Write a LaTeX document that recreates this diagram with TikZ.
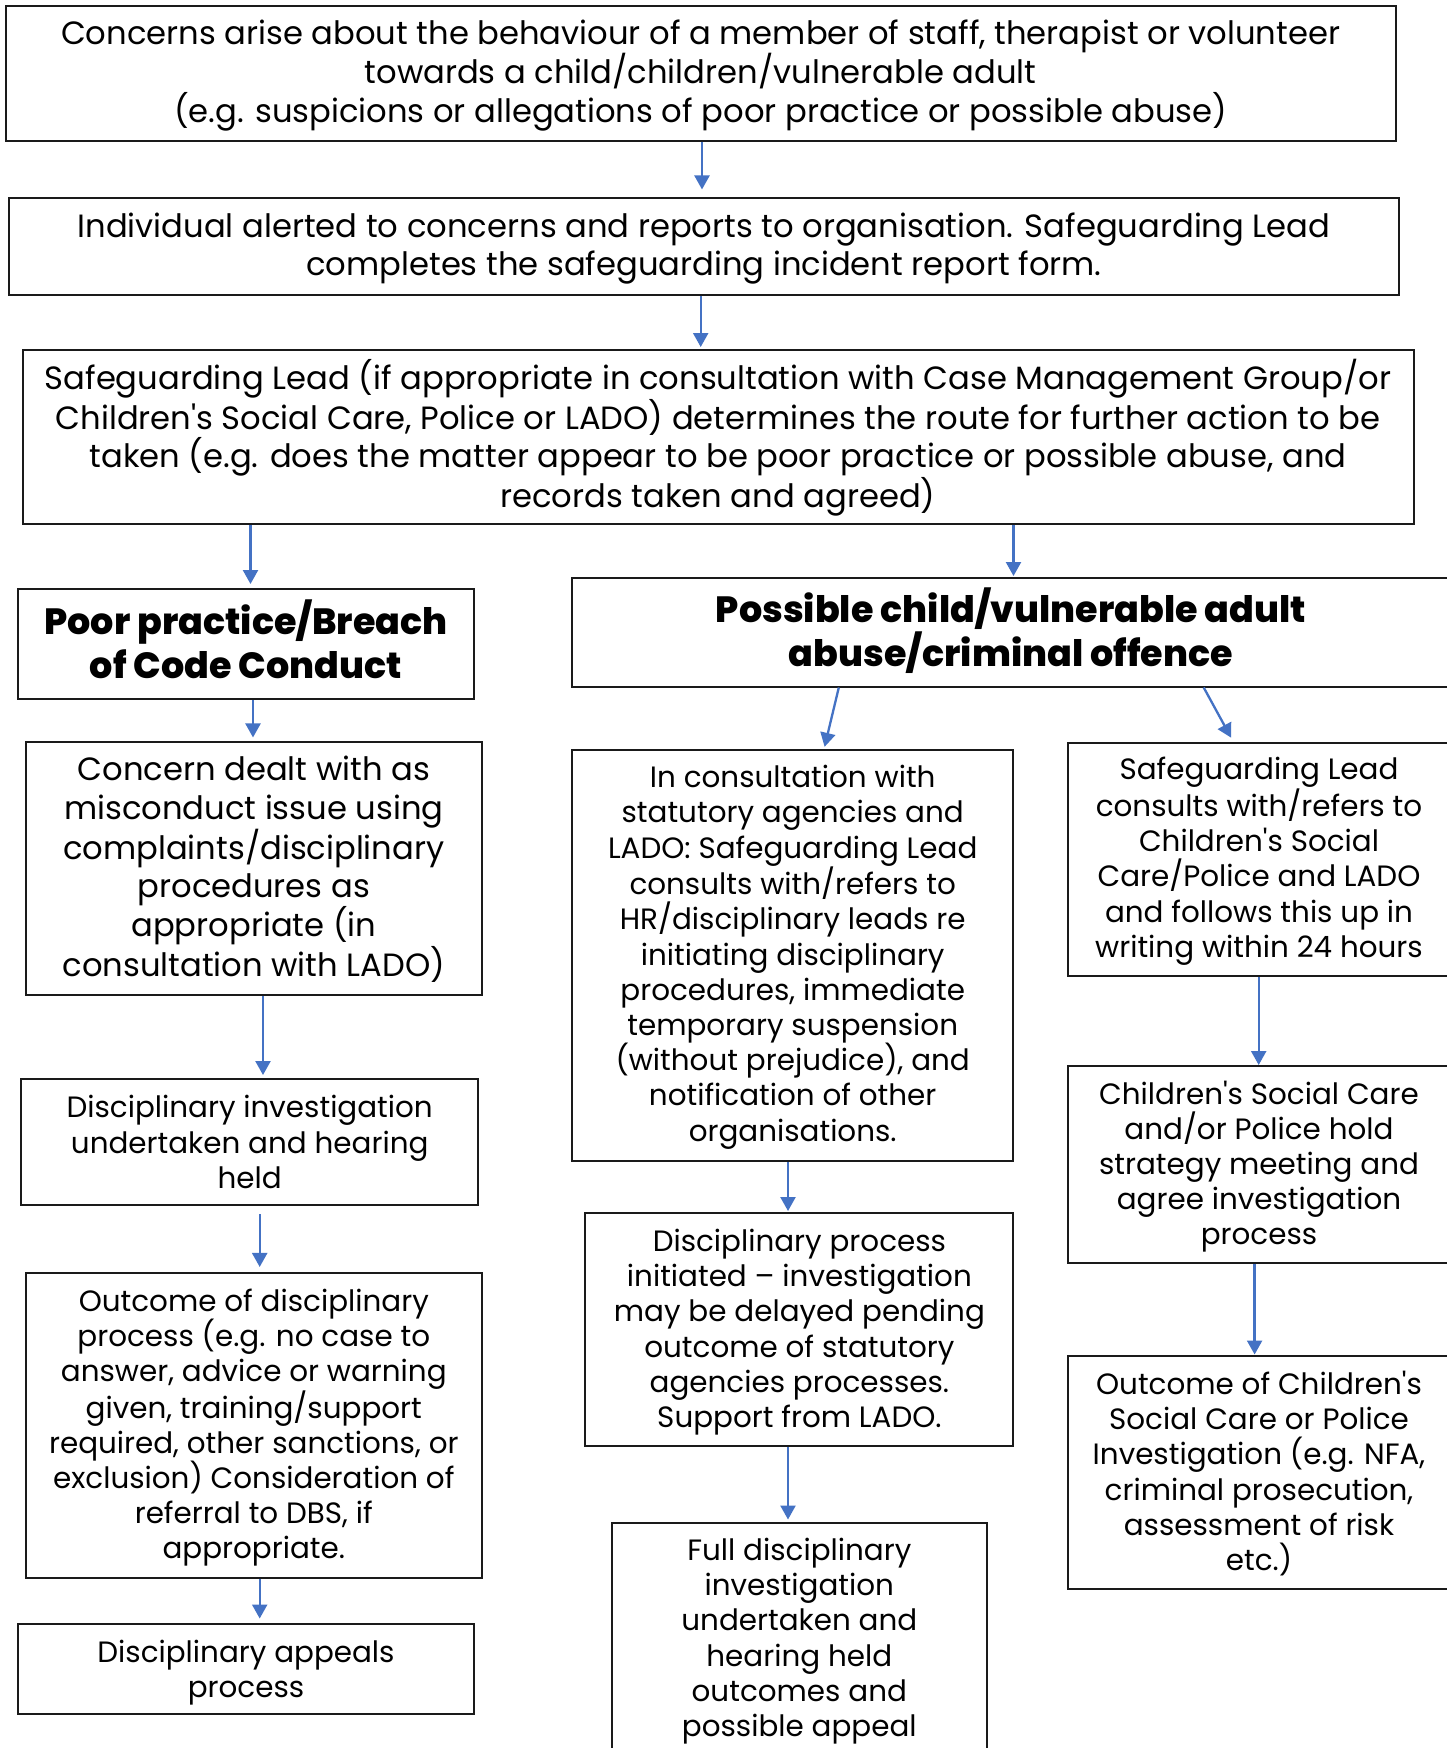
\documentclass[tikz,border=0pt]{standalone}
\usepackage{fontspec}
\setmainfont{Poppins}
\IfFontExistsTF{Poppins ExtraBold}
  {\newfontfamily\headfont{Poppins ExtraBold}}
  {\newfontfamily\headfont{Poppins}[UprightFont=*-Bold]}
\usetikzlibrary{arrows.meta}
\definecolor{arrowblue}{HTML}{4472C4}
\definecolor{boxline}{HTML}{1A1A1A}
\tikzset{
  box/.style={draw=boxline, line width=2pt, inner sep=0pt},
  txt/.style={inner sep=0pt, align=center, text=black},
  bigtxt/.style={txt, font=\fontsize{32.2}{38.2}\selectfont},
  smalltxt/.style={txt, font=\fontsize{29.4}{35.2}\selectfont},
  headtxt/.style={txt, font=\headfont\fontsize{36.5}{44}\selectfont},
  arr/.style={draw=arrowblue, line width=2.3pt, -{Triangle[width=15pt,length=14pt]}},
}
\begin{document}
\begin{tikzpicture}[x=1pt,y=-1pt]
\fill[white] (0,0) rectangle (1447,1748);
\useasboundingbox (0,0) rectangle (1447,1748);

% ---------- boxes ----------
\node[box,minimum width=1390pt,minimum height=135pt] (b1) at (700.6,73) {};
\node[box,minimum width=1390pt,minimum height=96.5pt] (b2) at (704,246.7) {};
\node[box,minimum width=1391pt,minimum height=174pt] (b3) at (718,437) {};
\node[box,minimum width=456pt,minimum height=110pt] (pp) at (246,644) {};
\node[box,minimum width=878pt,minimum height=109pt] (pca) at (1011,632) {};
\node[box,minimum width=456.4pt,minimum height=252.5pt] (l1) at (253.8,868.7) {};
\node[box,minimum width=457pt,minimum height=126pt] (l2) at (249.7,1142) {};
\node[box,minimum width=456.4pt,minimum height=304.7pt] (l3) at (253.8,1425.3) {};
\node[box,minimum width=456.5pt,minimum height=90pt] (l4) at (246,1669) {};
\node[box,minimum width=441.5pt,minimum height=410.7pt] (m1) at (792.7,955.6) {};
\node[box,minimum width=428pt,minimum height=233pt] (m2) at (799.4,1329.5) {};
\node[box,minimum width=374.6pt,minimum height=232pt] (m3) at (799.3,1639) {};
\node[box,minimum width=382pt,minimum height=233.3pt] (r1) at (1259,859.7) {};
\node[box,minimum width=382pt,minimum height=197pt] (r2) at (1259,1164.5) {};
\node[box,minimum width=382pt,minimum height=233pt] (r3) at (1259,1472) {};

% ---------- texts ----------
\node[bigtxt] (b1t) at ([yshift=-2.2pt]b1.center)
 {Concerns arise about the behaviour of a member of staff, therapist or volunteer\\towards a child/children/vulnerable adult\\(e.g. suspicions or allegations of poor practice or possible abuse)};
\node[bigtxt] (b2t) at ([yshift=-2.2pt]b2.center)
 {Individual alerted to concerns and reports to organisation. Safeguarding Lead\\completes the safeguarding incident report form.};
\node[bigtxt] (b3t) at ([yshift=-0.6pt]b3.center)
 {Safeguarding Lead (if appropriate in consultation with Case Management Group/or\\Children\textquotesingle s Social Care, Police or LADO) determines the route for further action to be\\taken (e.g. does the matter appear to be poor practice or possible abuse, and\\records taken and agreed)};
\node[headtxt] (ppt) at ([yshift=5pt]pp.center)
 {Poor practice/Breach\\of Code Conduct};
\node[headtxt] (pcat) at ([yshift=1pt]pca.center)
 {Possible child/vulnerable adult\\abuse/criminal offence};
\node[bigtxt] (l1t) at ([yshift=-0.6pt]l1.center)
 {Concern dealt with as\\misconduct issue using\\complaints/disciplinary\\procedures as\\appropriate (in\\consultation with LADO)};
\node[smalltxt] (l2t) at (l2.center)
 {Disciplinary investigation\\undertaken and hearing\\held};
\node[smalltxt] (l3t) at ([yshift=-2.2pt]l3.center)
 {Outcome of disciplinary\\process (e.g. no case to\\answer, advice or warning\\given, training/support\\required, other sanctions, or\\exclusion) Consideration of\\referral to DBS, if\\appropriate.};
\node[smalltxt] (l4t) at ([yshift=-3.3pt]l4.center)
 {Disciplinary appeals\\process};
\node[smalltxt] (m1t) at ([yshift=-1.6pt]m1.center)
 {In consultation with\\statutory agencies and\\LADO: Safeguarding Lead\\consults with/refers to\\HR/disciplinary leads re\\initiating disciplinary\\procedures, immediate\\temporary suspension\\(without prejudice), and\\notification of other\\organisations.};
\node[smalltxt] (m2t) at ([yshift=-2.6pt]m2.center)
 {Disciplinary process\\initiated – investigation\\may be delayed pending\\outcome of statutory\\agencies processes.\\Support from LADO.};
\node[smalltxt] (m3t) at ([yshift=-2.2pt]m3.center)
 {Full disciplinary\\investigation\\undertaken and\\hearing held\\outcomes and\\possible appeal};
\node[smalltxt] (r1t) at ([yshift=-1.6pt]r1.center)
 {Safeguarding Lead\\consults with/refers to\\Children\textquotesingle s Social\\Care/Police and LADO\\and follows this up in\\writing within 24 hours};
\node[smalltxt] (r2t) at ([yshift=-2.2pt]r2.center)
 {Children\textquotesingle s Social Care\\and/or Police hold\\strategy meeting and\\agree investigation\\process};
\node[smalltxt] (r3t) at ([yshift=-1.6pt]r3.center)
 {Outcome of Children\textquotesingle s\\Social Care or Police\\Investigation (e.g. NFA,\\criminal prosecution,\\assessment of risk\\etc.)};

% ---------- arrows ----------
\draw[arr,shorten >=8pt] ([xshift=1.4pt]b1.south) -- ([xshift=-2pt]b2.north);
\draw[arr,shorten >=2pt] ([xshift=-3.3pt]b2.south) -- ([xshift=-17.3pt]b3.north);
\draw[arr,shorten >=4pt] ([xshift=-467.5pt]b3.south) -- ([xshift=4.5pt]pp.north);
\draw[arr,shorten >=0.5pt] ([xshift=295.5pt]b3.south) -- ([xshift=2.5pt]pca.north);
\draw[arr,shorten >=4pt] ([xshift=7pt]pp.south) -- ([xshift=-0.8pt]l1.north);
\draw[arr,shorten >=2.5pt] ([xshift=-172.2pt]pca.south) -- ([xshift=31.3pt]m1.north);
\draw[arr,shorten >=5pt] ([xshift=192.7pt]pca.south) -- ([xshift=-25.5pt]r1.north);
\draw[arr,shorten >=3pt] ([xshift=9.2pt]l1.south) -- ([xshift=13.3pt]l2.north);
\draw[arr,shorten <=8pt,shorten >=5pt] ([xshift=10pt]l2.south) -- ([xshift=5.9pt]l3.north);
\draw[arr,shorten >=4.5pt] ([xshift=5.9pt]l3.south) -- ([xshift=13.7pt]l4.north);
\draw[arr,shorten >=1pt] ([xshift=-4.7pt]m1.south) -- ([xshift=-11.4pt]m2.north);
\draw[arr,shorten >=2.5pt] ([xshift=-11.4pt]m2.south) -- ([xshift=-11.3pt]m3.north);
\draw[arr] ([xshift=-0.3pt]r1.south) -- ([xshift=-0.3pt]r2.north);
\draw[arr] ([xshift=-4.4pt]r2.south) -- ([xshift=-4.4pt]r3.north);
\end{tikzpicture}
\end{document}
